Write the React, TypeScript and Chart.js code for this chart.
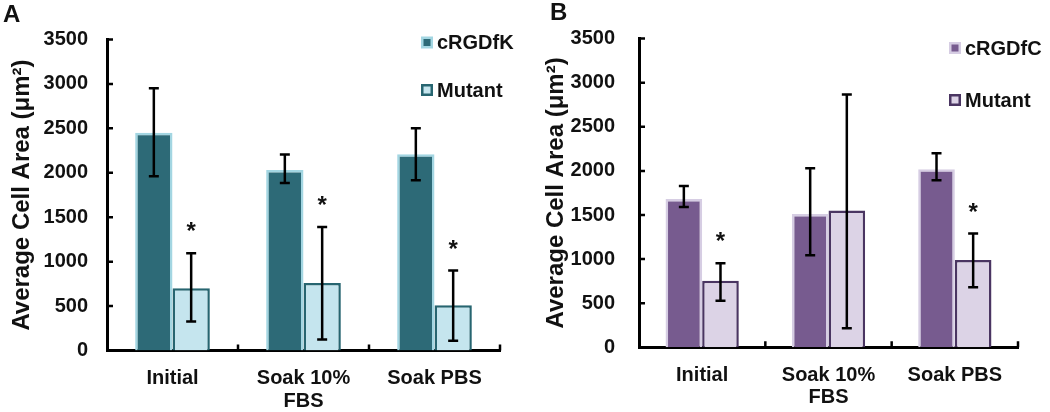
import React, { useEffect, useRef } from 'react';
import { Chart, registerables } from 'chart.js';

Chart.register(...registerables);

// ---------- data ----------
const categories = [['Initial'], ['Soak 10%', 'FBS'], ['Soak PBS']];
const yMin = 0;
const yMax = 3500;
const yStep = 500;

// Panel A
const seriesA = ['cRGDfK', 'Mutant'];
const rgdfkMean = [2450, 2030, 2210];
const rgdfkLow = [1960, 1885, 1915];
const rgdfkHigh = [2950, 2205, 2500];
const mutantAMean = [700, 760, 510];
const mutantALow = [325, 125, 110];
const mutantAHigh = [1095, 1390, 900];
const mutantASig = [true, true, true];

// Panel B
const seriesB = ['cRGDfC', 'Mutant'];
const rgdfcMean = [1680, 1510, 2020];
const rgdfcLow = [1590, 1045, 1895];
const rgdfcHigh = [1830, 2030, 2200];
const mutantBMean = [755, 1550, 990];
const mutantBLow = [528, 215, 680];
const mutantBHigh = [952, 2865, 1290];
const mutantBSig = [true, false, true];

const FONT = "'Liberation Sans', Arial, Helvetica, sans-serif";

// ---------- plugins ----------
const errorBarPlugin = {
  id: 'errorBars',
  afterDatasetsDraw(chart: any) {
    const { ctx } = chart;
    const ys = chart.scales.y;
    chart.data.datasets.forEach((ds: any, i: number) => {
      const meta = chart.getDatasetMeta(i);
      meta.data.forEach((el: any, j: number) => {
        const x = el.x;
        const yl = ys.getPixelForValue(ds.errLow[j]);
        const yh = ys.getPixelForValue(ds.errHigh[j]);
        ctx.save();
        ctx.strokeStyle = '#000';
        ctx.lineWidth = 2.5;
        ctx.beginPath();
        ctx.moveTo(x, yl);
        ctx.lineTo(x, yh);
        ctx.moveTo(x - 5, yl);
        ctx.lineTo(x + 5, yl);
        ctx.moveTo(x - 5, yh);
        ctx.lineTo(x + 5, yh);
        ctx.stroke();
        if (ds.sig && ds.sig[j]) {
          ctx.fillStyle = '#111';
          ctx.font = `bold 24px ${FONT}`;
          ctx.textAlign = 'center';
          ctx.textBaseline = 'alphabetic';
          ctx.fillText('*', x, yh - 14);
        }
        ctx.restore();
      });
    });
  },
};

const innerTicksPlugin = {
  id: 'innerTicks',
  afterDraw(chart: any) {
    const { ctx, chartArea } = chart;
    const ys = chart.scales.y;
    const xs = chart.scales.x;
    ctx.save();
    ctx.strokeStyle = '#000';
    ctx.lineWidth = 2.5;
    ctx.beginPath();
    ys.ticks.forEach((t: any) => {
      if (t.value === yMin) return;
      const y = ys.getPixelForValue(t.value);
      ctx.moveTo(chartArea.left, y);
      ctx.lineTo(chartArea.left + 6, y);
    });
    const n = chart.data.labels.length;
    for (let i = 0; i < n; i++) {
      const p = xs.getPixelForValue(i);
      const next = i < n - 1 ? xs.getPixelForValue(i + 1) : p + (p - xs.getPixelForValue(i - 1));
      const bx = (p + next) / 2;
      ctx.moveTo(bx, chartArea.bottom);
      ctx.lineTo(bx, chartArea.bottom - 6);
    }
    ctx.stroke();
    ctx.restore();
  },
};

const boxLegendPlugin = {
  id: 'boxLegend',
  afterDraw(chart: any, _args: any, opts: any) {
    const { ctx } = chart;
    ctx.save();
    chart.data.datasets.forEach((ds: any, i: number) => {
      const cy = opts.ys[i];
      const s = opts.size;
      const bx = opts.x;
      const by = cy - s / 2;
      ctx.fillStyle = ds.borderColor;
      ctx.fillRect(bx, by, s, s);
      ctx.fillStyle = ds.backgroundColor;
      const ins = 2.5;
      ctx.fillRect(bx + ins, by + ins, s - 2 * ins, s - 2 * ins);
      ctx.fillStyle = '#111';
      ctx.font = `bold 20px ${FONT}`;
      ctx.textAlign = 'left';
      ctx.textBaseline = 'middle';
      ctx.fillText(ds.label, opts.textX, cy + 1);
    });
    ctx.restore();
  },
};

const panelLabelPlugin = {
  id: 'panelLabel',
  afterDraw(chart: any, _args: any, opts: any) {
    const { ctx } = chart;
    ctx.save();
    ctx.fillStyle = '#111';
    ctx.font = `bold 24px ${FONT}`;
    ctx.textAlign = 'left';
    ctx.textBaseline = 'alphabetic';
    ctx.fillText(opts.text, opts.x, opts.y);
    ctx.restore();
  },
};

type PanelCfg = {
  names: string[];
  mean1: number[];
  low1: number[];
  high1: number[];
  mean2: number[];
  low2: number[];
  high2: number[];
  sig2: boolean[];
  dark: string;
  darkBorder: string;
  light: string;
  lightBorder: string;
  padding: { left: number; right: number; top: number; bottom: number };
  yWidth: number;
  xHeight: number;
  tickPad: number;
  titlePad: number;
  catPct: number;
  legend: { x: number; textX: number; ys: number[]; size: number };
  label: { text: string; x: number; y: number };
};

function makeConfig(p: PanelCfg): any {
  return {
    type: 'bar',
    data: {
      labels: categories,
      datasets: [
        {
          label: p.names[0],
          data: p.mean1,
          errLow: p.low1,
          errHigh: p.high1,
          backgroundColor: p.dark,
          borderColor: p.darkBorder,
          borderWidth: 2.5,
        },
        {
          label: p.names[1],
          data: p.mean2,
          errLow: p.low2,
          errHigh: p.high2,
          sig: p.sig2,
          backgroundColor: p.light,
          borderColor: p.lightBorder,
          borderWidth: 2.5,
        },
      ],
    },
    options: {
      responsive: false,
      animation: false,
      layout: { padding: p.padding },
      datasets: {
        bar: { categoryPercentage: p.catPct, barPercentage: 1 },
      },
      plugins: {
        legend: { display: false },
        tooltip: { enabled: false },
        title: { display: false },
        boxLegend: p.legend,
        panelLabel: p.label,
      },
      scales: {
        x: {
          grid: { display: false, drawTicks: false },
          border: { display: true, color: '#000', width: 3 },
          ticks: {
            color: '#111',
            padding: 17,
            font: { family: FONT, size: 20, weight: 'bold', lineHeight: 1.12 },
            maxRotation: 0,
            autoSkip: false,
          },
          afterFit: (s: any) => {
            s.height = p.xHeight;
          },
        },
        y: {
          min: yMin,
          max: yMax,
          grid: { display: false, drawTicks: false },
          border: { display: true, color: '#000', width: 3 },
          ticks: {
            stepSize: yStep,
            color: '#111',
            padding: p.tickPad,
            font: { family: FONT, size: 20, weight: 'bold' },
            callback: (v: any) => String(v),
          },
          title: {
            display: true,
            text: 'Average Cell Area (μm²)',
            color: '#111',
            font: { family: FONT, size: 24, weight: 'bold', lineHeight: 1.2 },
            padding: { top: p.titlePad, bottom: 0 },
          },
          afterFit: (s: any) => {
            s.width = p.yWidth;
          },
        },
      },
    },
    plugins: [errorBarPlugin, innerTicksPlugin, boxLegendPlugin, panelLabelPlugin],
  };
}

const panelA: PanelCfg = {
  names: seriesA,
  mean1: rgdfkMean,
  low1: rgdfkLow,
  high1: rgdfkHigh,
  mean2: mutantAMean,
  low2: mutantALow,
  high2: mutantAHigh,
  sig2: mutantASig,
  dark: '#2d6a77',
  darkBorder: '#a3d6e2',
  light: '#c5e5ee',
  lightBorder: '#276570',
  padding: { left: 0, right: 25, top: 39.5, bottom: 0 },
  yWidth: 107,
  xHeight: 61.5,
  tickPad: 19,
  titlePad: 8,
  catPct: 0.57,
  legend: { x: 421, textX: 437, ys: [42.5, 90], size: 12 },
  label: { text: 'A', x: 3, y: 22 },
};

const panelB: PanelCfg = {
  names: seriesB,
  mean1: rgdfcMean,
  low1: rgdfcLow,
  high1: rgdfcHigh,
  mean2: mutantBMean,
  low2: mutantBLow,
  high2: mutantBHigh,
  sig2: mutantBSig,
  dark: '#775b8f',
  darkBorder: '#d6cde3',
  light: '#dcd3e6',
  lightBorder: '#4a3562',
  padding: { left: 0, right: 32, top: 38.6, bottom: 0 },
  yWidth: 114,
  xHeight: 64.7,
  tickPad: 24,
  titlePad: 16.6,
  catPct: 0.58,
  legend: { x: 424, textX: 440, ys: [48, 100], size: 12 },
  label: { text: 'B', x: 25, y: 20 },
};

function Panel({ cfg }: { cfg: PanelCfg }) {
  const ref = useRef<HTMLCanvasElement | null>(null);
  useEffect(() => {
    if (!ref.current) return;
    const chart = new Chart(ref.current, makeConfig(cfg));
    return () => chart.destroy();
  }, [cfg]);
  return <canvas ref={ref} width={525} height={412} style={{ display: 'block', width: 525, height: 412 }} />;
}

export default function App() {
  return (
    <div
      style={{
        position: 'absolute',
        left: 0,
        top: 0,
        width: 1050,
        height: 412,
        display: 'flex',
        background: '#fff',
        overflow: 'hidden',
      }}
    >
      <Panel cfg={panelA} />
      <Panel cfg={panelB} />
    </div>
  );
}
